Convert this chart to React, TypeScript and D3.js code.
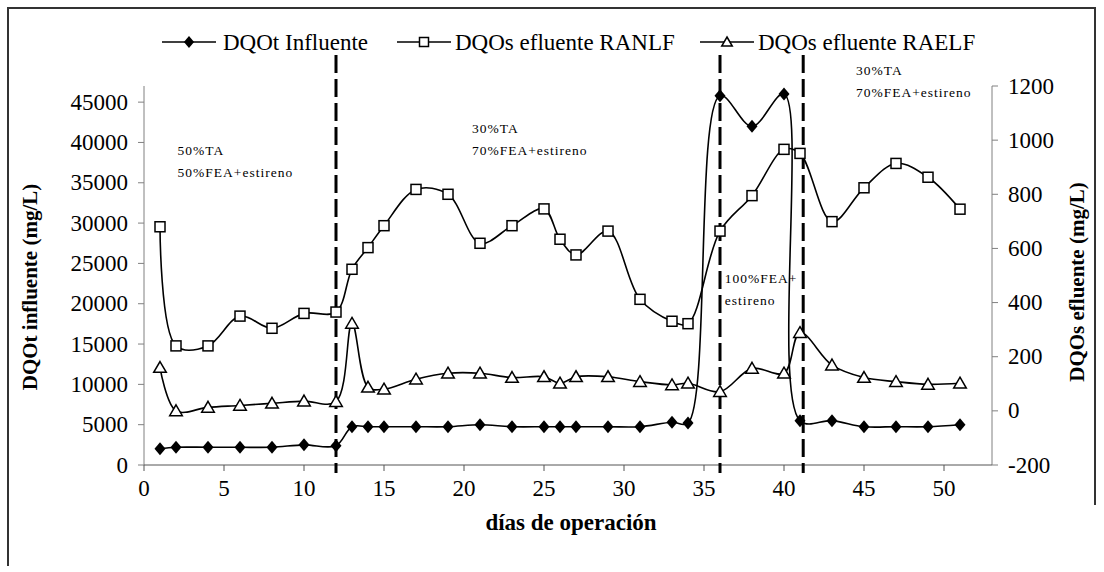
import React from "react";
import * as d3 from "d3";

const days = [1, 2, 4, 6, 8, 10, 12, 13, 14, 15, 17, 19, 21, 23, 25, 26, 27, 29, 31, 33, 34, 36, 38, 40, 41, 43, 45, 47, 49, 51];
const dqotInfluente = [2000, 2200, 2200, 2200, 2200, 2500, 2400, 4750, 4750, 4750, 4750, 4750, 5000, 4750, 4750, 4750, 4750, 4750, 4750, 5300, 5200, 45800, 42000, 46000, 5500, 5500, 4750, 4750, 4750, 5000];
const dqosRANLF = [680, 240, 240, 350, 305, 360, 365, 523, 603, 684, 818, 800, 619, 684, 746, 634, 576, 664, 412, 331, 322, 664, 795, 966, 951, 699, 824, 914, 863, 745];
const dqosRAELF = [160, 0, 13, 20, 28, 36, 34, 323, 87, 80, 117, 139, 139, 123, 126, 102, 126, 126, 108, 96, 102, 71, 157, 139, 289, 169, 123, 108, 98, 102];

const xTicks = [0, 5, 10, 15, 20, 25, 30, 35, 40, 45, 50];
const leftTicks = [0, 5000, 10000, 15000, 20000, 25000, 30000, 35000, 40000, 45000];
const rightTicks = [-200, 0, 200, 400, 600, 800, 1000, 1200];
const phaseChanges = [12, 36, 41.2];
const legendLabels = ["DQOt Influente", "DQOs efluente RANLF", "DQOs efluente RAELF"];
const xTitle = "días de operación";
const leftTitle = "DQOt influente (mg/L)";
const rightTitle = "DQOs efluente (mg/L)";
const annotations = [
  { day: 2.1, lines: ["50%TA", "50%FEA+estireno"], y: 155 },
  { day: 20.5, lines: ["30%TA", "70%FEA+estireno"], y: 133 },
  { day: 36.3, lines: ["100%FEA+", "estireno"], y: 283 },
  { day: 44.5, lines: ["30%TA", "70%FEA+estireno"], y: 75 },
];

const W = 1104;
const H = 572;
const FONT = "'Liberation Serif', 'Times New Roman', serif";

export default function App() {
  const x = d3.scaleLinear().domain([0, 53]).range([144, 992]);
  const yL = d3.scaleLinear().domain([0, 47000]).range([465, 86]);
  const yR = d3.scaleLinear().domain([-200, 1200]).range([465, 86]);
  const curve = d3.curveCatmullRom.alpha(0.5);

  const lineL = d3.line<number>().x((_, i) => x(days[i])).y((v) => yL(v)).curve(curve);
  const lineR = d3.line<number>().x((_, i) => x(days[i])).y((v) => yR(v)).curve(curve);

  const diamond = (cx: number, cy: number, r = 6.5) =>
    `M${cx},${cy - r}L${cx + r * 0.85},${cy}L${cx},${cy + r}L${cx - r * 0.85},${cy}Z`;
  const triangle = (cx: number, cy: number, s = 6) =>
    `M${cx},${cy - s}L${cx + s * 1.05},${cy + s * 0.8}L${cx - s * 1.05},${cy + s * 0.8}Z`;

  const legendItems = [
    { lx: 162, tx: 223, kind: "diamond" },
    { lx: 397, tx: 455, kind: "square" },
    { lx: 700, tx: 758, kind: "triangle" },
  ];
  const ly = 42;

  return (
    <svg width={W} height={H} style={{ position: "absolute", left: 0, top: 0, background: "#fff" }} fontFamily={FONT}>
      <rect x={0} y={0} width={W} height={H} fill="#fff" />
      {/* outer frame */}
      <path d="M8,566 L8,8 L1095,8 L1095,505" fill="none" stroke="#333" strokeWidth={2} />

      {/* legend */}
      {legendItems.map((it, i) => {
        const cx = it.lx + 27;
        return (
          <g key={i}>
            <line x1={it.lx} x2={it.lx + 54} y1={ly} y2={ly} stroke="#000" strokeWidth={1.6} />
            {it.kind === "diamond" && <path d={diamond(cx, ly, 6)} fill="#000" />}
            {it.kind === "square" && <rect x={cx - 4.5} y={ly - 4.5} width={9} height={9} fill="#fff" stroke="#000" strokeWidth={1.5} />}
            {it.kind === "triangle" && <path d={triangle(cx, ly, 5)} fill="#fff" stroke="#000" strokeWidth={1.5} />}
            <text x={it.tx} y={ly} dominantBaseline="central" fontSize={23} fill="#000">{legendLabels[i]}</text>
          </g>
        );
      })}

      {/* axes */}
      <line x1={144} x2={144} y1={86} y2={465} stroke="#808080" strokeWidth={1} />
      <line x1={992} x2={992} y1={86} y2={465} stroke="#808080" strokeWidth={1} />
      <line x1={144} x2={992} y1={465} y2={465} stroke="#555" strokeWidth={1} />
      {leftTicks.map((t) => (
        <g key={"l" + t}>
          <line x1={138} x2={144} y1={yL(t)} y2={yL(t)} stroke="#808080" />
          <text x={128} y={yL(t)} textAnchor="end" dominantBaseline="central" fontSize={23}>{t}</text>
        </g>
      ))}
      {rightTicks.map((t) => (
        <g key={"r" + t}>
          <line x1={992} x2={998} y1={yR(t)} y2={yR(t)} stroke="#808080" />
          <text x={1008} y={yR(t)} textAnchor="start" dominantBaseline="central" fontSize={23}>{t}</text>
        </g>
      ))}
      {xTicks.map((t) => (
        <g key={"x" + t}>
          <line x1={x(t)} x2={x(t)} y1={465} y2={471} stroke="#555" />
          <text x={x(t)} y={496} textAnchor="middle" fontSize={23}>{t}</text>
        </g>
      ))}

      {/* axis titles */}
      <text x={571} y={530} textAnchor="middle" fontSize={23} fontWeight="bold">{xTitle}</text>
      <text transform={`translate(30,${287}) rotate(-90)`} textAnchor="middle" dominantBaseline="central" fontSize={21} fontWeight="bold">{leftTitle}</text>
      <text transform={`translate(1077,${282}) rotate(-90)`} textAnchor="middle" dominantBaseline="central" fontSize={21} fontWeight="bold">{rightTitle}</text>

      {/* phase lines */}
      {phaseChanges.map((d) => (
        <line key={"p" + d} x1={x(d)} x2={x(d)} y1={55} y2={473} stroke="#000" strokeWidth={3} strokeDasharray="18,6" />
      ))}

      {/* annotations */}
      {annotations.map((a, i) => (
        <text key={"a" + i} fontSize={13.5} letterSpacing={1} fill="#000">
          {a.lines.map((l, j) => (
            <tspan key={j} x={x(a.day)} y={a.y + j * 21.5}>{l}</tspan>
          ))}
        </text>
      ))}

      {/* series */}
      <path d={lineR(dqosRANLF) || ""} fill="none" stroke="#000" strokeWidth={1.6} />
      <path d={lineR(dqosRAELF) || ""} fill="none" stroke="#000" strokeWidth={1.6} />
      <path d={lineL(dqotInfluente) || ""} fill="none" stroke="#000" strokeWidth={1.6} />

      {dqosRANLF.map((v, i) => (
        <rect key={"s" + i} x={x(days[i]) - 5} y={yR(v) - 5} width={10} height={10} fill="#fff" stroke="#000" strokeWidth={1.5} />
      ))}
      {dqosRAELF.map((v, i) => (
        <path key={"t" + i} d={triangle(x(days[i]), yR(v), 6)} fill="#fff" stroke="#000" strokeWidth={1.5} />
      ))}
      {dqotInfluente.map((v, i) => (
        <path key={"d" + i} d={diamond(x(days[i]), yL(v), 6.5)} fill="#000" />
      ))}
    </svg>
  );
}
